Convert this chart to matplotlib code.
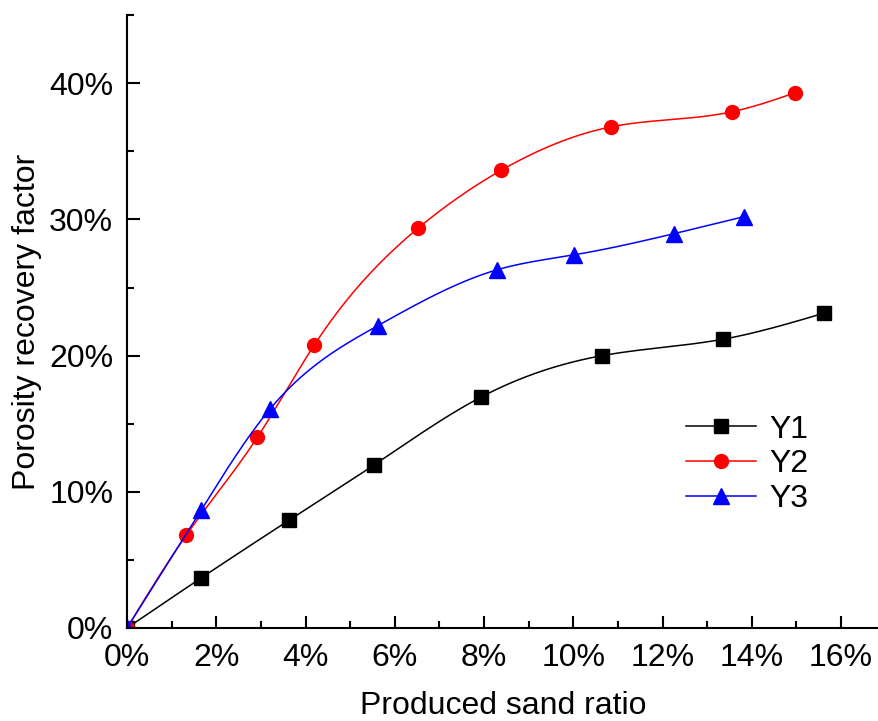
import numpy as np
import matplotlib
matplotlib.use("Agg")
from matplotlib import pyplot as plt
from matplotlib.ticker import MultipleLocator, PercentFormatter

plt.rcParams["font.family"] = ["Liberation Sans", "DejaVu Sans"]

# values (fractions)
y1_x = [0.0, 0.0166, 0.0364, 0.0553, 0.0793, 0.1065, 0.1335, 0.1562]
y1_y = [0.0, 0.0367, 0.0793, 0.1196, 0.1695, 0.2000, 0.2120, 0.2312]
y2_x = [0.0, 0.0133, 0.0292, 0.0420, 0.0652, 0.0838, 0.1085, 0.1355, 0.1497]
y2_y = [0.0, 0.0683, 0.1400, 0.2080, 0.2935, 0.3360, 0.3680, 0.3790, 0.3930]
y3_x = [0.0, 0.0166, 0.0321, 0.0562, 0.0829, 0.1002, 0.1225, 0.1382]
y3_y = [0.0, 0.0866, 0.1610, 0.2220, 0.2630, 0.2740, 0.2895, 0.3020]


def smooth(x, y, n=300):
    # natural cubic spline through the points, for drawing only
    x = np.asarray(x, float)
    y = np.asarray(y, float)
    h = np.diff(x)
    m = len(x)
    A = np.zeros((m, m))
    b = np.zeros(m)
    A[0, 0] = A[-1, -1] = 1
    for i in range(1, m - 1):
        A[i, i - 1] = h[i - 1]
        A[i, i] = 2 * (h[i - 1] + h[i])
        A[i, i + 1] = h[i]
        b[i] = 3 * ((y[i + 1] - y[i]) / h[i] - (y[i] - y[i - 1]) / h[i - 1])
    c = np.linalg.solve(A, b)
    xs = np.linspace(x[0], x[-1], n)
    idx = np.clip(np.searchsorted(x, xs) - 1, 0, m - 2)
    dx = xs - x[idx]
    bb = (y[idx + 1] - y[idx]) / h[idx] - h[idx] * (2 * c[idx] + c[idx + 1]) / 3
    dd = (c[idx + 1] - c[idx]) / (3 * h[idx])
    ys = y[idx] + bb * dx + c[idx] * dx ** 2 + dd * dx ** 3
    return xs, ys


fig = plt.figure(figsize=(8.79, 7.21), dpi=100)
ax = fig.add_axes([0.1445, 0.129, 0.8555, 0.850])

series = [
    ("Y1", y1_x, y1_y, "black", "s", 10),
    ("Y2", y2_x, y2_y, "red", "o", 10),
    ("Y3", y3_x, y3_y, "blue", "^", 11),
]
for name, xs, ys, col, mk, ms in series:
    sx, sy = smooth(xs, ys)
    ax.plot(sx, sy, color=col, lw=1.1)
    ax.plot(xs, ys, ls="none", marker=mk, color=col, ms=ms)
    ax.plot([], [], color=col, lw=1.1, marker=mk, ms=ms, label=name)

ax.set_xlim(0, 0.1685)
ax.set_ylim(0, 0.45)
ax.xaxis.set_major_locator(MultipleLocator(0.02))
ax.xaxis.set_minor_locator(MultipleLocator(0.01))
ax.yaxis.set_major_locator(MultipleLocator(0.10))
ax.yaxis.set_minor_locator(MultipleLocator(0.05))
ax.xaxis.set_major_formatter(PercentFormatter(1.0, decimals=0))
ax.yaxis.set_major_formatter(PercentFormatter(1.0, decimals=0))

for s in ["top", "right"]:
    ax.spines[s].set_visible(False)
for s in ["left", "bottom"]:
    ax.spines[s].set_linewidth(1.5)

ax.tick_params(which="major", direction="in", length=9, width=1.5, labelsize=23)
ax.tick_params(which="minor", direction="in", length=5, width=1.5)
ax.tick_params(axis="x", which="major", pad=11)
ax.tick_params(axis="y", which="major", pad=10)

ax.set_xlabel("Produced sand ratio", fontsize=23, labelpad=13)
ax.set_ylabel("Porosity recovery factor", fontsize=23, labelpad=5)

ax.legend(loc="upper left", bbox_to_anchor=(0.705, 0.395), frameon=False,
          fontsize=23, handlelength=2.2, handletextpad=0.4, labelspacing=0.15)

fig.savefig("out.png", dpi=100)
